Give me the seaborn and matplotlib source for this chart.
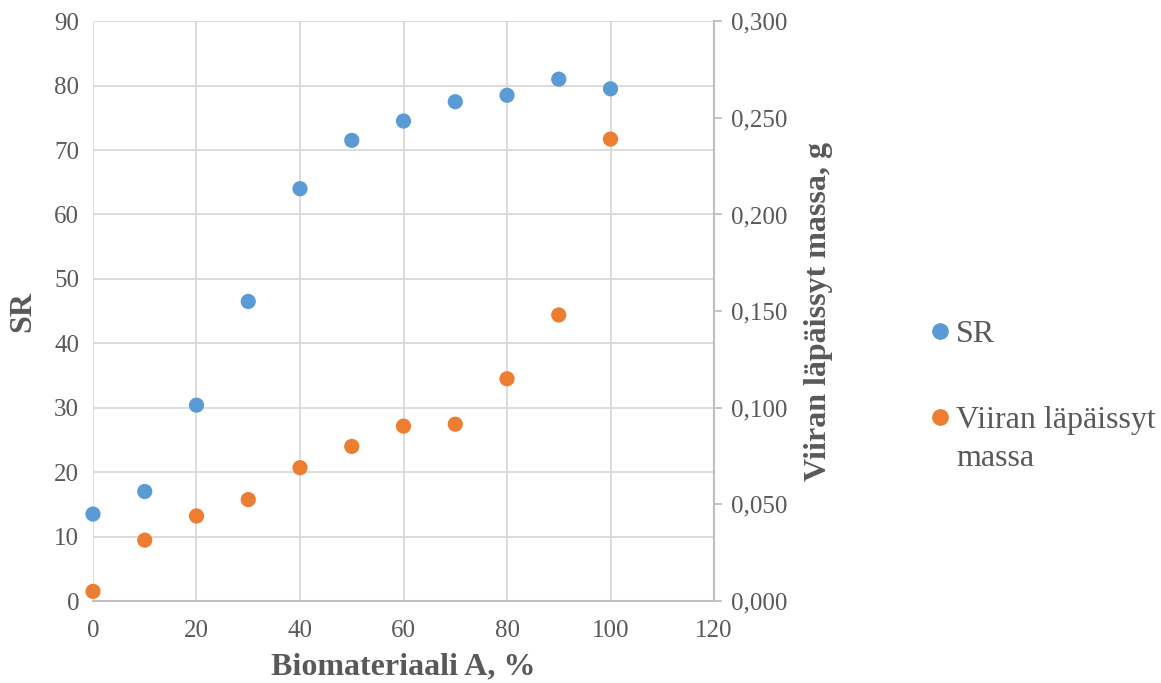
import matplotlib
matplotlib.use("Agg")
import matplotlib.pyplot as plt
import seaborn as sns
import pandas as pd
from matplotlib.ticker import FuncFormatter, MultipleLocator
from matplotlib.lines import Line2D

biomaterial = [0, 10, 20, 30, 40, 50, 60, 70, 80, 90, 100]
sr_values = [13.5, 17.0, 30.4, 46.5, 64.0, 71.5, 74.5, 77.5, 78.5, 81.0, 79.5]
mass_values = [0.005, 0.0315, 0.044, 0.0525, 0.069, 0.080, 0.0905, 0.0915, 0.115, 0.148, 0.239]

sr_label = "SR"
mass_label_lines = ["Viiran läpäissyt", "massa"]
x_title = "Biomateriaali A, %"
y_title = "SR"
y2_title = "Viiran läpäissyt massa, g"

blue = "#5B9BD5"
orange = "#ED7D31"
text_color = "#595959"
grid_color = "#D9D9D9"

sns.set_style("white")
plt.rcParams['font.family'] = ['Liberation Serif', 'DejaVu Serif']

df = pd.DataFrame({"x": biomaterial, "sr": sr_values, "mass": mass_values})

fig = plt.figure(figsize=(11.61, 6.83), dpi=100)
ax = fig.add_axes([0.0801, 0.120, 0.5349, 0.849])
ax2 = ax.twinx()

sns.scatterplot(data=df, x="x", y="sr", ax=ax, color=blue, s=120, edgecolor="none",
                zorder=3, clip_on=False)
sns.scatterplot(data=df, x="x", y="mass", ax=ax2, color=orange, s=120, edgecolor="none",
                zorder=3, clip_on=False)

ax.set_xlim(0, 120)
ax.set_ylim(0, 90)
ax2.set_ylim(0, 0.300)
ax.xaxis.set_major_locator(MultipleLocator(20))
ax.yaxis.set_major_locator(MultipleLocator(10))
ax2.yaxis.set_major_locator(MultipleLocator(0.05))
ax2.yaxis.set_major_formatter(FuncFormatter(lambda v, p: f"{v:.3f}".replace(".", ",")))

ax.grid(True, color=grid_color, linewidth=1.3)
ax.set_axisbelow(True)

for a in (ax, ax2):
    for s in a.spines.values():
        s.set_visible(False)
ax.spines["bottom"].set_visible(True)
ax.spines["bottom"].set_color("#BFBFBF")
ax.spines["bottom"].set_linewidth(1.5)
ax2.spines["right"].set_visible(True)
ax2.spines["right"].set_color("#BFBFBF")
ax2.spines["right"].set_linewidth(1.5)

ax.tick_params(axis="both", length=0, labelsize=18, labelcolor=text_color, pad=10)
ax.tick_params(axis="x", pad=14)
ax2.tick_params(axis="y", length=6, width=1.3, color="#BFBFBF", labelsize=18,
                labelcolor=text_color, pad=6, direction="out")

ax.set_xlabel(x_title, fontsize=23, fontweight="bold", color=text_color, labelpad=7)
ax.set_ylabel(y_title, fontsize=23, fontweight="bold", color=text_color, labelpad=12)
ax2.set_ylabel(y2_title, fontsize=23, fontweight="bold", color=text_color, labelpad=12)

handles = [
    Line2D([], [], marker="o", linestyle="none", markersize=11, color=blue, label=sr_label),
    Line2D([], [], marker="o", linestyle="none", markersize=11, color=orange,
           label=mass_label_lines[0]),
]
leg = fig.legend(handles=handles, loc="center left", bbox_to_anchor=(0.796, 0.447),
                 frameon=False, fontsize=23, handletextpad=0.0, labelspacing=1.78,
                 handlelength=1.0, borderpad=0, borderaxespad=0)
for t in leg.get_texts():
    t.set_color(text_color)

fig.canvas.draw()
renderer = fig.canvas.get_renderer()
bb = leg.get_texts()[1].get_window_extent(renderer)
x0, y0 = fig.transFigure.inverted().transform((bb.x0, bb.y0))
fig.text(x0, y0 - 38 / 683, mass_label_lines[1], fontsize=23, color=text_color,
         ha="left", va="bottom")

fig.savefig("out.png", dpi=100)
